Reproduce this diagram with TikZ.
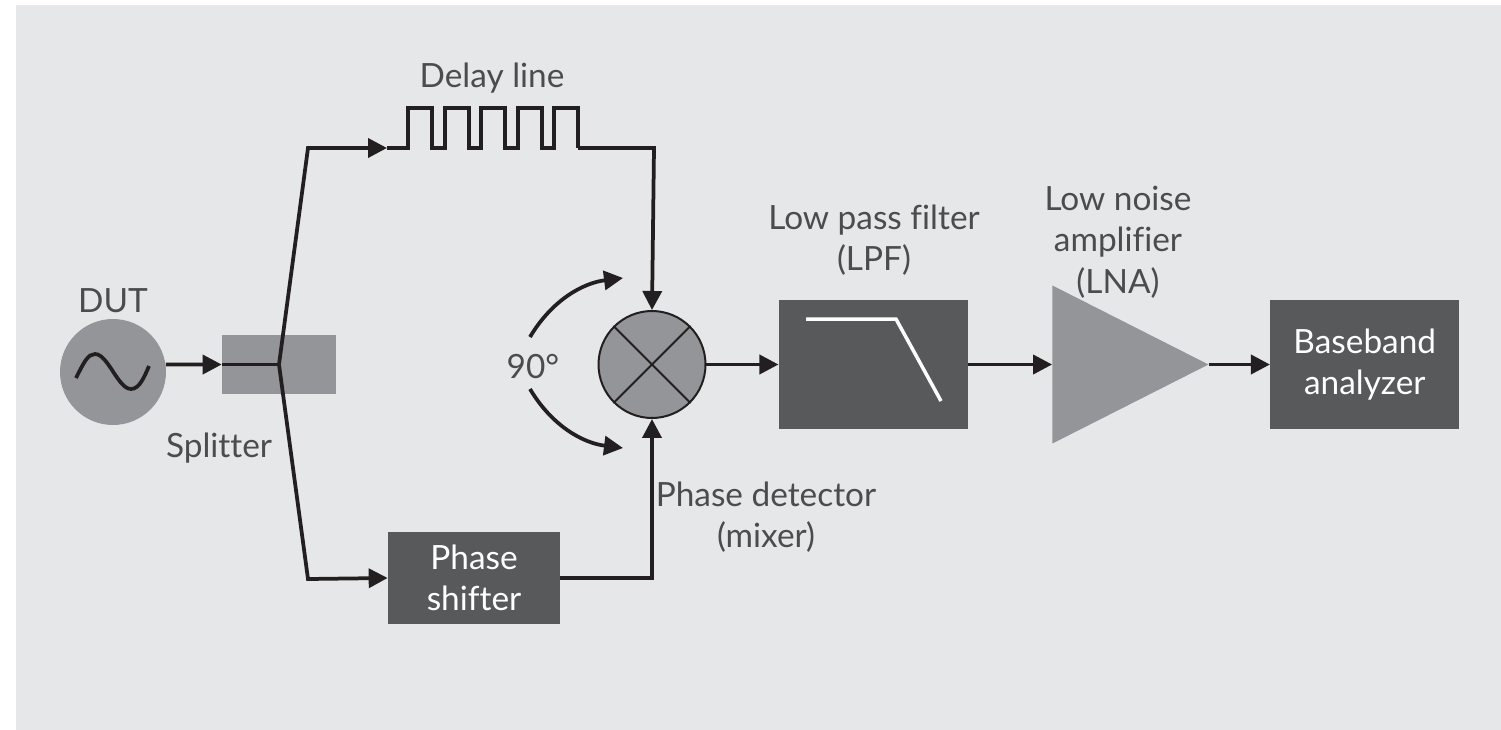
\documentclass[tikz,border=0pt]{standalone}
\usepackage{fontspec}
\setmainfont[Ligatures=NoCommon]{Lato}
\definecolor{PanelGray}{RGB}{230, 231, 232}
\definecolor{MidGray}{RGB}{147, 149, 152}
\definecolor{DarkGray}{RGB}{88, 89, 91}
\definecolor{WireBlack}{RGB}{35, 31, 32}
\usetikzlibrary{arrows.meta, positioning, shapes.geometric, calc}
\tikzset{
    wire/.style={line width=0.075cm, WireBlack, line join=miter},
    block/.style={fill=DarkGray, text=white, inner sep=0pt, align=center},
    caption/.style={text=DarkGray!85!black, inner sep=0pt, align=center},
}

\begin{document}
\begin{tikzpicture}[x=0.02cm, y=-0.02cm, >={Triangle[length=0.38cm, width=0.38cm]}, every node/.style={font=\fontsize{19}{23.5}\selectfont}]
    \useasboundingbox (0,0) rectangle (1501,730);
    \fill[PanelGray] (16,5) rectangle (1501,730);

    % Main flow
    \node[circle, fill=MidGray, minimum size=2.12cm, inner sep=0pt] (dut) at (113,372) {};
    \node[fill=MidGray, minimum width=2.28cm, minimum height=1.2cm, inner sep=0pt] (splitter) at (279,364.5) {};
    \node[circle, draw=WireBlack, line width=0.04cm, fill=MidGray, minimum size=2.14cm, inner sep=0pt] (mixer) at (652,364.5) {};
    \node[block, minimum width=3.78cm, minimum height=2.6cm, right=1.44cm of mixer] (lpf) {};
    \node[isosceles triangle, isosceles triangle apex angle=90, isosceles triangle stretches, fill=MidGray, minimum width=3.16cm, minimum height=3.12cm, inner sep=0pt, right=1.68cm of lpf] (lna) {};
    \node[block, minimum width=3.78cm, minimum height=2.6cm, right=1.22cm of lna] (baseband) {Baseband\\analyzer};
    \node[block, minimum width=3.44cm, minimum height=1.84cm] (shifter) at (474,578) {Phase\\shifter};

    % Labels
    \node[caption, above=0.12cm of dut] (dutlabel) {DUT};
    \node[caption] (splitterlabel) at (219,448) {Splitter};
    \node[caption] (delaylabel) at (492,78) {Delay line};
    \node[caption] (anglelabel) at (533,367) {90°};
    \node[caption] (mixerlabel) at (766,517) {Phase detector\\(mixer)};
    \node[caption] (lpflabel) at (874,240) {Low pass filter\\(LPF)};
    \node[caption] (lnalabel) at (1118,242) {Low noise\\amplifier\\(LNA)};

    % Delay line ends and branch points
    \coordinate (split) at (279,364.5);
    \coordinate (upper) at (308,148);
    \coordinate (lower) at (308,579);
    \coordinate (delayin) at (387,148);
    \coordinate (delayout) at (578,148);
    \coordinate (corner) at (654,148);

    % Symbols inside the shapes
    \draw[wire] (76,378) .. controls (84,362) and (88,354) .. (95,354) .. controls (108,354) and (118,389) .. (131,389) .. controls (139,389) and (144,378) .. (149,366);
    \draw[line width=0.04cm, WireBlack] (mixer.45) -- (mixer.225) (mixer.135) -- (mixer.315);
    \draw[line width=0.07cm, white] (806,319) -- (896,319) -- (941,401);

    \draw[wire, ->] (dut.8) -- (splitter.west);
    \draw[wire] (splitter.west) -- (split);
    \draw[wire, ->] (split) -- (upper) -- (delayin);
    \draw[wire, ->] (split) -- (lower) -- (shifter.west);
    \draw[wire] (delayin)
        \foreach \xpos in {408,445,481,518,554} {
            -- (\xpos,148) -- (\xpos,108) -- (\xpos+24,108) -- (\xpos+24,148)
        } -- (delayout);
    \draw[wire, ->] (delayout) -- (corner) -- (mixer.north);
    \draw[wire, ->] (shifter.east) -| (mixer.south);
    \draw[wire, ->] (mixer.east) -- (lpf.west);
    \draw[wire, ->] (lpf.east) -- (lna.west);
    \draw[wire, ->] (lna.east) -- (baseband.west);

    % Rotation arcs
    \draw[wire, ->] (530,337) .. controls (552,300) and (583,283) .. (623,278);
    \draw[wire, ->] (530,389) .. controls (552,426) and (583,443) .. (623,448);
\end{tikzpicture}
\end{document}
